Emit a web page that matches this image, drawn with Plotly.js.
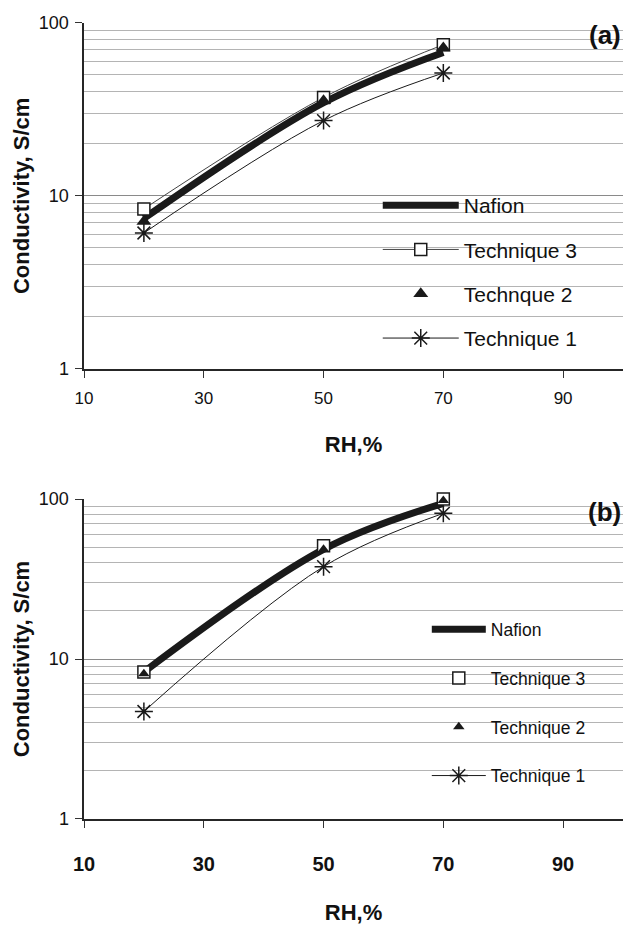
<!DOCTYPE html>
<html>
<head>
<meta charset="utf-8">
<script src="https://cdn.plot.ly/plotly-3.0.1.min.js"></script>
<style>html,body{margin:0;padding:0;background:#fff;}#chart{width:623px;height:925px;}</style>
</head>
<body>
<div id="chart"></div>
<script>
// ---- data ----
const rh = [20, 50, 70];
// panel (a)
const aNafion = [7.4, 34.5, 67.3];
const aTech3 = [8.4, 37.0, 74.6];
const aTech2 = [7.1, 35.4, 71.4];
const aTech1 = [6.1, 27.2, 51.2];
// panel (b)
const bNafion = [8.3, 48.5, 94.0];
const bTech3 = [8.3, 51.1, 100.0];
const bTech2 = [8.1, 48.5, 98.0];
const bTech1 = [4.7, 37.8, 81.4];
// axes
const xTickVals = [10, 30, 50, 70, 90];
const yTickVals = [1, 10, 100];
const yTickText = ['1', '10', '100'];
const seriesNames = ['Nafion', 'Technique 3', 'Technque 2', 'Technique 1'];
const seriesNamesB = ['Nafion', 'Technique 3', 'Technique 2', 'Technique 1'];

const SANS = '"Liberation Sans", Arial, sans-serif';
const INK = '#1a1a1a';

function panel(xa, ya, leg, nafion, t3, t2, t1, names, t3line) {
  return [
    {x: rh, y: t1, name: names[3], xaxis: xa, yaxis: ya, legend: leg, legendgroup: leg + 't1', legendrank: 4,
     mode: 'lines+markers', line: {color: INK, width: 1, shape: 'spline'},
     marker: {symbol: 'asterisk-open', size: 15, line: {color: INK, width: 1.5}}, cliponaxis: false},
    {x: rh, y: nafion, name: names[0], xaxis: xa, yaxis: ya, legend: leg, legendgroup: leg + 'n', legendrank: 1,
     mode: 'lines', line: {color: INK, width: 7, shape: 'spline'}, cliponaxis: false},
    {x: rh, y: t3, name: names[1], xaxis: xa, yaxis: ya, legend: leg, legendgroup: leg + 't3', legendrank: 2,
     mode: t3line ? 'lines+markers' : 'markers', line: {color: '#444', width: 1, shape: 'spline'},
     marker: {symbol: 'square', size: 12, color: '#fff', line: {color: INK, width: 1.5}}, cliponaxis: false},
    {x: rh, y: t2, name: names[2], xaxis: xa, yaxis: ya, legend: leg, legendgroup: leg + 't2', legendrank: 3,
     mode: 'markers', marker: {symbol: 'triangle-up', size: leg === 'legend' ? 13 : 10, color: INK}, cliponaxis: false}
  ];
}

const data = [].concat(
  panel('x', 'y', 'legend', aNafion, aTech3, aTech2, aTech1, seriesNames, true),
  panel('x2', 'y2', 'legend2', bNafion, bTech3, bTech2, bTech1, seriesNamesB, false)
);

function xAxis(anchor, boldTicks, labelStandoff, standoffT) {
  return {
    anchor: anchor, domain: [0, 1], range: [10, 100], tickmode: 'array', tickvals: xTickVals,
    ticks: 'outside', ticklen: 7, tickwidth: 1, tickcolor: '#333', ticklabelstandoff: labelStandoff,
    showline: true, linecolor: '#262626', linewidth: 2.5, showgrid: false, zeroline: false,
    tickfont: boldTicks ? {family: SANS, size: 20, color: '#111', weight: 'bold'} : {family: SANS, size: 17, color: '#111'},
    title: {text: 'RH,%', font: {family: SANS, size: 22, color: '#111', weight: 'bold'}, standoff: standoffT}
  };
}
function yAxis(anchor, dom) {
  return {
    anchor: anchor, domain: dom, type: 'log', range: [0, 2], tickmode: 'array', tickvals: yTickVals, ticktext: yTickText,
    ticks: 'outside', ticklen: 7, tickwidth: 1, tickcolor: '#333', ticklabelstandoff: 2,
    showline: true, linecolor: '#262626', linewidth: 2.5, zeroline: false,
    showgrid: true, gridcolor: '#8a8a8a', gridwidth: 1,
    minor: {dtick: 'D1', showgrid: true, gridcolor: '#b4b4b4', gridwidth: 1, ticks: ''},
    tickfont: {family: SANS, size: 18, color: '#111'},
    title: {text: 'Conductivity, S/cm', font: {family: SANS, size: 22, color: '#111', weight: 'bold'}, standoff: 3}
  };
}

const layout = {
  width: 623, height: 925,
  margin: {l: 84, r: 0, t: 0, b: 0},
  paper_bgcolor: '#fff', plot_bgcolor: '#fff',
  showlegend: true,
  xaxis: xAxis('y', false, 5, 30),
  yaxis: yAxis('x', [0.6011, 0.9755]),
  xaxis2: xAxis('y2', true, 19, 33),
  yaxis2: yAxis('x2', [0.1146, 0.4605]),
  legend: {x: 0.545, y: 0.80, xanchor: 'left', yanchor: 'top', bgcolor: 'rgba(0,0,0,0)',
           font: {family: SANS, size: 21, color: '#111'}, tracegroupgap: 14, itemwidth: 76},
  legend2: {x: 0.636, y: 0.339, xanchor: 'left', yanchor: 'top', bgcolor: 'rgba(0,0,0,0)',
            font: {family: SANS, size: 17.5, color: '#111'}, tracegroupgap: 23, itemwidth: 54},
  shapes: [
    {type: 'rect', xref: 'paper', yref: 'paper', x0: 0.488, x1: 1, y0: 0.6011, y1: 0.8216,
     fillcolor: '#fff', line: {width: 0}, layer: 'between'},
    {type: 'rect', xref: 'paper', yref: 'paper', x0: 0.603, x1: 1, y0: 0.1146, y1: 0.3546,
     fillcolor: '#fff', line: {width: 0}, layer: 'between'}
  ],
  annotations: [
    {text: '(a)', xref: 'paper', yref: 'paper', x: 1, y: 0.9622, xanchor: 'right', yanchor: 'middle', showarrow: false,
     font: {family: SANS, size: 26, color: '#111', weight: 'bold'}},
    {text: '(b)', xref: 'paper', yref: 'paper', x: 1, y: 0.4468, xanchor: 'right', yanchor: 'middle', showarrow: false,
     font: {family: SANS, size: 26, color: '#111', weight: 'bold'}}
  ]
};

Plotly.newPlot('chart', data, layout, {staticPlot: true, displayModeBar: false});
</script>
</body>
</html>
